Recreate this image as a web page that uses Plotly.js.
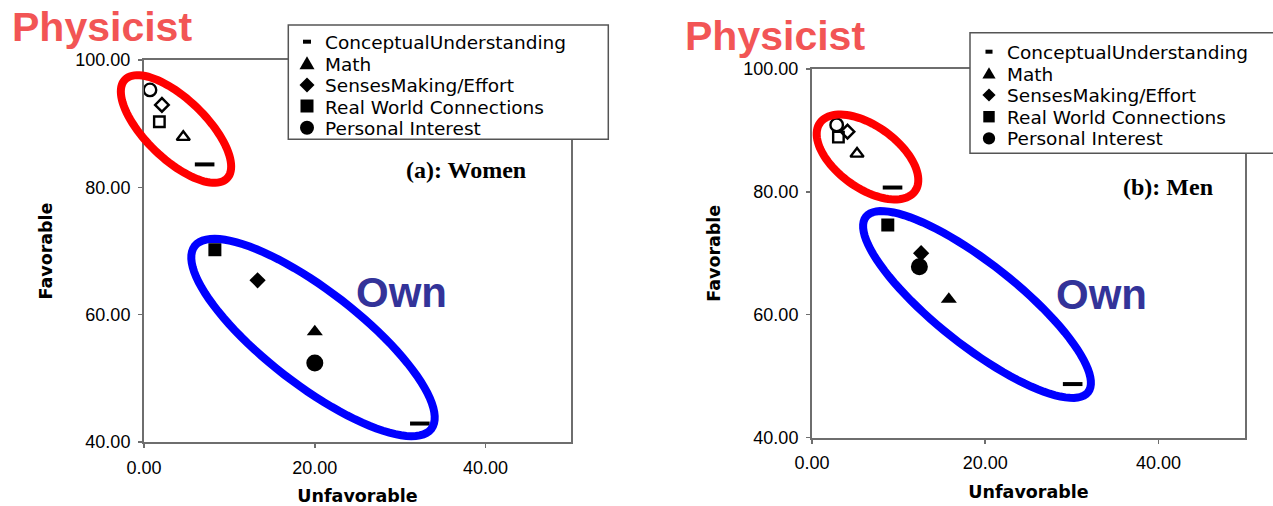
<!DOCTYPE html>
<html><head><meta charset="utf-8">
<script src="https://cdn.plot.ly/plotly-3.0.1.min.js"></script>
<style>html,body{margin:0;padding:0;background:#fff}</style>
</head><body><div id="chart" style="width:1273px;height:506px"></div>
<script>
// ---------- data ----------
const categories = ['ConceptualUnderstanding', 'Math', 'SensesMaking/Effort', 'Real World Connections', 'Personal Interest'];
const womenPhysUnfav = [7.1, 4.6, 2.1, 1.8, 0.7];
const womenPhysFav   = [83.6, 87.9, 92.95, 90.3, 95.3];
const womenOwnUnfav  = [32.3, 20.0, 13.3, 8.3, 20.0];
const womenOwnFav    = [42.9, 57.3, 65.4, 70.2, 52.4];
const menPhysUnfav   = [9.3, 5.2, 4.1, 3.05, 2.85];
const menPhysFav     = [80.7, 86.2, 89.8, 88.9, 90.9];
const menOwnUnfav    = [30.1, 15.8, 12.6, 8.75, 12.4];
const menOwnFav      = [48.7, 62.5, 70.0, 74.6, 67.8];
const xTickVals = [0, 20, 40];
const yTickVals = [40, 60, 80, 100];
const panelLabels = ['(a): Women', '(b): Men'];
const groupLabels = ['Physicist', 'Own'];
const axisTitles = ['Unfavorable', 'Favorable'];

// ---------- styles ----------
const SANS = 'Liberation Sans, Arial, sans-serif';
const SANS_W = 'DejaVu Sans, Verdana, sans-serif';
const SERIF = 'Liberation Serif, Times New Roman, serif';
const AXC = '#6e6e6e';
const ownStyle = {
  symbol: ['line-ew', 'triangle-up', 'diamond', 'square', 'circle'],
  size: [14, 14, 12.5, 13, 17],
  lw: [4, 0, 0, 0, 0]
};
const physStyle = {
  symbol: ['line-ew', 'triangle-up-open', 'diamond-open', 'square-open', 'circle-open'],
  size: [14, 11.5, 10.5, 10.5, 12.5],
  lw: [4, 2.4, 2.4, 2.4, 2.4]
};

// layout geometry (pixels)
const M = {l: 144, r: 28, t: 60, b: 64};
const W = 1273, H = 506;
const PW = W - M.l - M.r, PH = H - M.t - M.b;
const px = v => (v - M.l) / PW;
const py = v => (H - M.b - v) / PH;

function mk(xs, ys, st, xa, ya, name) {
  return {
    type: 'scatter', mode: 'markers', x: xs, y: ys, xaxis: xa, yaxis: ya,
    text: categories, name: name, showlegend: false, cliponaxis: false,
    marker: {symbol: st.symbol, size: st.size, color: '#000', opacity: 1,
             line: {color: '#000', width: st.lw}}
  };
}
const data = [
  mk(womenPhysUnfav, womenPhysFav, physStyle, 'x', 'y', 'Physicist'),
  mk(womenOwnUnfav, womenOwnFav, ownStyle, 'x', 'y', 'Own'),
  mk(menPhysUnfav, menPhysFav, physStyle, 'x2', 'y2', 'Physicist'),
  mk(menOwnUnfav, menOwnFav, ownStyle, 'x2', 'y2', 'Own')
];

function xax(domain, anchor) {
  return {
    domain: domain, anchor: anchor, range: [0, 50], tickvals: xTickVals, tickformat: '.2f',
    ticks: 'outside', ticklen: 4, tickwidth: 1.5, tickcolor: AXC,
    showline: true, linecolor: AXC, linewidth: 2, mirror: true,
    showgrid: false, zeroline: false, ticklabelstandoff: 4,
    tickfont: {family: SANS, size: 18, color: '#000'},
    title: {text: axisTitles[0], standoff: 14, font: {family: SANS_W, size: 17.5, weight: 'bold', color: '#000'}}
  };
}
function yax(domain, anchor) {
  return {
    domain: domain, anchor: anchor, range: [40, 100], tickvals: yTickVals, tickformat: '.2f',
    ticks: 'outside', ticklen: 4, tickwidth: 1.5, tickcolor: AXC,
    showline: true, linecolor: AXC, linewidth: 2, mirror: true,
    showgrid: false, zeroline: false, ticklabelstandoff: 4,
    tickfont: {family: SANS, size: 18, color: '#000'},
    title: {text: axisTitles[1], standoff: 18, font: {family: SANS_W, size: 17.5, weight: 'bold', color: '#000'}}
  };
}

// ellipse outline (pixel centre, semi-axes, rotation) -> paper path
function ellipse(cx, cy, a, b, deg, color) {
  const th = deg * Math.PI / 180;
  let d = '';
  for (let i = 0; i <= 96; i++) {
    const t = i / 96 * 2 * Math.PI;
    const X = cx + a * Math.cos(t) * Math.cos(th) - b * Math.sin(t) * Math.sin(th);
    const Y = cy + a * Math.cos(t) * Math.sin(th) + b * Math.sin(t) * Math.cos(th);
    d += (i ? 'L' : 'M') + px(X).toFixed(5) + ',' + py(Y).toFixed(5);
  }
  return {type: 'path', xref: 'paper', yref: 'paper', path: d + 'Z', layer: 'above',
          line: {color: color, width: 8}};
}
function rect(x0, y0, x1, y1) {
  return {type: 'rect', xref: 'paper', yref: 'paper', x0: px(x0), x1: px(x1), y0: py(y0), y1: py(y1),
          layer: 'above', fillcolor: '#fff', line: {color: '#555', width: 1.5}};
}
function poly(pts) {
  return {type: 'path', xref: 'paper', yref: 'paper', layer: 'above', fillcolor: '#000',
          line: {width: 0},
          path: pts.map((p, i) => (i ? 'L' : 'M') + px(p[0]).toFixed(5) + ',' + py(p[1]).toFixed(5)).join('') + 'Z'};
}
function legendSymbols(cx, rows, k) {
  const s = [];
  s.push(poly([[cx - 4 * k, rows[0] - 2], [cx + 4 * k, rows[0] - 2], [cx + 4 * k, rows[0] + 2], [cx - 4 * k, rows[0] + 2]]));
  s.push(poly([[cx - 7.5 * k, rows[1] + 6 * k], [cx + 7.5 * k, rows[1] + 6 * k], [cx, rows[1] - 7 * k]]));
  s.push(poly([[cx, rows[2] - 7.5 * k], [cx + 7.5 * k, rows[2]], [cx, rows[2] + 7.5 * k], [cx - 7.5 * k, rows[2]]]));
  s.push(poly([[cx - 6.5 * k, rows[3] - 6.5 * k], [cx + 6.5 * k, rows[3] - 6.5 * k], [cx + 6.5 * k, rows[3] + 6.5 * k], [cx - 6.5 * k, rows[3] + 6.5 * k]]));
  s.push({type: 'circle', xref: 'paper', yref: 'paper', layer: 'above', fillcolor: '#000', line: {width: 0},
          x0: px(cx - 7 * k), x1: px(cx + 7 * k), y0: py(rows[4] + 7 * k), y1: py(rows[4] - 7 * k)});
  return s;
}

const leftRows = [41.7, 63.3, 85, 106, 127.7];
const rightRows = [51.7, 73.3, 95, 116.7, 138.3];

const shapes = [
  ellipse(176, 129, 71, 30, 44, '#ff0000'),
  ellipse(313, 337.5, 149.5, 47, 37.7, '#0000ff'),
  ellipse(867.5, 157, 58.5, 31, 35.8, '#ff0000'),
  ellipse(977, 304.5, 141.5, 41, 38.3, '#0000ff'),
  rect(288.3, 25, 608.3, 139.3),
  rect(970, 32.7, 1290, 153.3)
].concat(legendSymbols(307, leftRows, 1), legendSymbols(989, rightRows, 0.88));

function ann(text, x, y, font, extra) {
  return Object.assign({text: text, xref: 'paper', yref: 'paper', x: px(x), y: py(y), xanchor: 'left',
          yanchor: 'middle', showarrow: false, font: font, borderpad: 0}, extra || {});
}
const physFont = {family: SANS, size: 41, weight: 'bold', color: '#f25555'};
const ownFont = {family: SANS, size: 42, weight: 'bold', color: '#333399'};
const panelFont = {family: SERIF, size: 24, weight: 'bold', color: '#000'};
// legend: one multi-line text; line pitch from base size (1.3em), glyph size from span
const legBase = {family: SANS_W, size: 16.6, color: '#000'};
const legendText = categories.map(c => '<span style="font-size:18.5px">' + c + '</span>').join('<br>');

const annotations = [
  ann(groupLabels[0], 11, 26.8, physFont),
  ann(groupLabels[0], 684, 35.8, physFont),
  ann(groupLabels[1], 355, 292, ownFont),
  ann(groupLabels[1], 1055, 294, ownFont),
  ann(panelLabels[0], 405, 170, panelFont),
  ann(panelLabels[1], 1122, 187, panelFont),
  ann(legendText, 324, leftRows[2], legBase, {align: 'left'}),
  ann(legendText, 1006, rightRows[2], legBase, {align: 'left'})
];

const layout = {
  width: W, height: H, margin: M, paper_bgcolor: '#fff', plot_bgcolor: '#fff',
  showlegend: false,
  xaxis: xax([0, px(571)], 'y'),
  yaxis: yax([0, 1], 'x'),
  xaxis2: xax([px(812), 1], 'y2'),
  yaxis2: yax([py(437.5), py(69)], 'x2'),
  shapes: shapes, annotations: annotations
};
Plotly.newPlot('chart', data, layout, {displayModeBar: false, staticPlot: true});
</script></body></html>
